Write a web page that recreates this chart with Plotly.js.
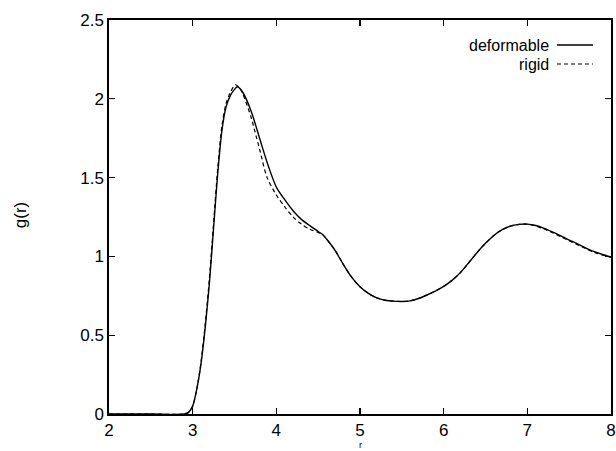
<!DOCTYPE html>
<html>
<head>
<meta charset="utf-8">
<script src="https://cdn.plot.ly/plotly-3.0.1.min.js"></script>
<style>
html,body{margin:0;padding:0;background:#fff;}
#wrap{position:relative;width:616px;height:451px;}
#chart,#frame{position:absolute;left:0;top:0;width:616px;height:451px;}
#frame{pointer-events:none;}
</style>
</head>
<body>
<div id="wrap"><div id="chart"></div><div id="frame"></div></div>
<script>
// r values for both series
const rDeformable = [2.0, 2.5, 2.9, 2.95, 3.0, 3.05, 3.1, 3.15, 3.2, 3.25, 3.3, 3.35, 3.4, 3.45, 3.5, 3.535, 3.6, 3.7, 3.8, 3.9, 4.0, 4.1, 4.2, 4.3, 4.4, 4.5, 4.55, 4.6, 4.7, 4.8, 4.9, 5.0, 5.1, 5.2, 5.3, 5.4, 5.5, 5.6, 5.7, 5.8, 5.9, 6.0, 6.1, 6.2, 6.3, 6.4, 6.5, 6.6, 6.7, 6.8, 6.9, 7.0, 7.1, 7.2, 7.3, 7.4, 7.5, 7.6, 7.7, 7.8, 7.9, 8.0];
const gDeformable = [0, 0, 0, 0.01, 0.05, 0.16, 0.32, 0.55, 0.83, 1.18, 1.53, 1.8, 1.95, 2.02, 2.06, 2.076, 2.04, 1.92, 1.75, 1.58, 1.44, 1.36, 1.29, 1.235, 1.195, 1.158, 1.14, 1.11, 1.04, 0.95, 0.868, 0.807, 0.765, 0.737, 0.722, 0.716, 0.714, 0.718, 0.733, 0.755, 0.78, 0.81, 0.848, 0.897, 0.96, 1.025, 1.083, 1.133, 1.17, 1.193, 1.203, 1.205, 1.196, 1.178, 1.155, 1.13, 1.104, 1.079, 1.053, 1.03, 1.012, 0.997];
const rRigid = [2.0, 2.5, 2.9, 2.95, 3.0, 3.05, 3.1, 3.15, 3.2, 3.25, 3.3, 3.35, 3.4, 3.45, 3.51, 3.56, 3.6, 3.7, 3.76, 3.8, 3.89, 4.0, 4.1, 4.2, 4.3, 4.4, 4.5, 4.55, 4.6, 4.7, 4.8, 4.9, 5.0, 5.1, 5.2, 5.3, 5.4, 5.5, 5.6, 5.7, 5.8, 5.9, 6.0, 6.1, 6.2, 6.3, 6.4, 6.5, 6.6, 6.7, 6.8, 6.9, 7.0, 7.1, 7.2, 7.3, 7.4, 7.5, 7.6, 7.7, 7.8, 7.9, 8.0];
const gRigid = [0, 0, 0, 0.01, 0.05, 0.16, 0.33, 0.57, 0.86, 1.21, 1.56, 1.83, 1.97, 2.04, 2.089, 2.07, 2.03, 1.88, 1.76, 1.68, 1.5, 1.39, 1.315, 1.25, 1.205, 1.172, 1.152, 1.14, 1.11, 1.04, 0.95, 0.868, 0.807, 0.765, 0.737, 0.722, 0.716, 0.714, 0.718, 0.733, 0.755, 0.78, 0.81, 0.848, 0.897, 0.96, 1.025, 1.083, 1.133, 1.17, 1.193, 1.203, 1.204, 1.193, 1.174, 1.15, 1.125, 1.099, 1.074, 1.049, 1.026, 1.008, 0.994];
const seriesNames = ["deformable", "rigid"];
const xTickVals = [2, 3, 4, 5, 6, 7, 8];
const yTickVals = [0, 0.5, 1, 1.5, 2, 2.5];
const xRange = [2, 8];
const yRange = [0, 2.5];

const FONT = "Liberation Sans, Arial, Helvetica, sans-serif";
const MARGIN = {l: 109, r: 5, t: 20, b: 37};

function axisStyle(extra) {
  return Object.assign({
    showline: true, linecolor: "#000", linewidth: 1.5, mirror: "allticks",
    ticks: "inside", ticklen: 6, tickcolor: "#000", tickwidth: 1.2,
    showgrid: false, zeroline: false,
    tickfont: {family: FONT, size: 17, color: "#000"}
  }, extra);
}

const traces = [
  {x: rDeformable, y: gDeformable, mode: "lines",
   line: {color: "#000", width: 1.4, shape: "spline", smoothing: 0.8}},
  {x: rRigid, y: gRigid, mode: "lines",
   line: {color: "#000", width: 1.2, dash: "4px,3px", shape: "spline", smoothing: 0.8}}
];

const layout = {
  width: 616, height: 451, margin: MARGIN,
  paper_bgcolor: "#fff", plot_bgcolor: "#fff",
  showlegend: false,
  font: {family: FONT, color: "#000"},
  xaxis: axisStyle({range: xRange, tickvals: xTickVals}),
  yaxis: axisStyle({range: yRange, tickvals: yTickVals, ticksuffix: "\u2002"})
};

const annotations = [
  {xref: "paper", yref: "paper", x: 0.8785, y: 0.9365, xanchor: "right", yanchor: "middle",
   text: seriesNames[0], showarrow: false, borderpad: 0, font: {family: FONT, size: 16, color: "#000"}},
  {xref: "paper", yref: "paper", x: 0.8785, y: 0.8883, xanchor: "right", yanchor: "middle",
   text: seriesNames[1], showarrow: false, borderpad: 0, font: {family: FONT, size: 16, color: "#000"}},
  {xref: "paper", yref: "paper", x: -0.177, y: 0.505, xanchor: "center", yanchor: "middle",
   textangle: -90, text: "g(r)", showarrow: false, font: {family: FONT, size: 17, color: "#000"}},
  {xref: "paper", yref: "paper", x: 0.5, y: -0.0939, xanchor: "center", yanchor: "bottom",
   text: "r", showarrow: false, borderpad: 0, font: {family: FONT, size: 9, color: "#000"}}
];

const shapes = [
  {type: "line", xref: "paper", yref: "paper", x0: 0.8924, x1: 0.9641, y0: 0.9365, y1: 0.9365,
   line: {color: "#000", width: 1.4}},
  {type: "line", xref: "paper", yref: "paper", x0: 0.8924, x1: 0.9641, y0: 0.8883, y1: 0.8883,
   line: {color: "#000", width: 1.2, dash: "4px,3px"}}
];

const gd = document.getElementById("chart");
Plotly.newPlot(gd, traces, layout, {displayModeBar: false}).then(function () {
  return Plotly.relayout(gd, {annotations: annotations, shapes: shapes});
});

// transparent overlay plot that draws only the boxed frame and inside tick marks
const frameLayout = {
  width: 616, height: 451, margin: MARGIN,
  paper_bgcolor: "rgba(0,0,0,0)", plot_bgcolor: "rgba(0,0,0,0)",
  showlegend: false,
  xaxis: axisStyle({range: xRange, tickvals: xTickVals, showticklabels: false}),
  yaxis: axisStyle({range: yRange, tickvals: yTickVals, showticklabels: false})
};
Plotly.newPlot("frame", [], frameLayout, {displayModeBar: false, staticPlot: true});
</script>
</body>
</html>
